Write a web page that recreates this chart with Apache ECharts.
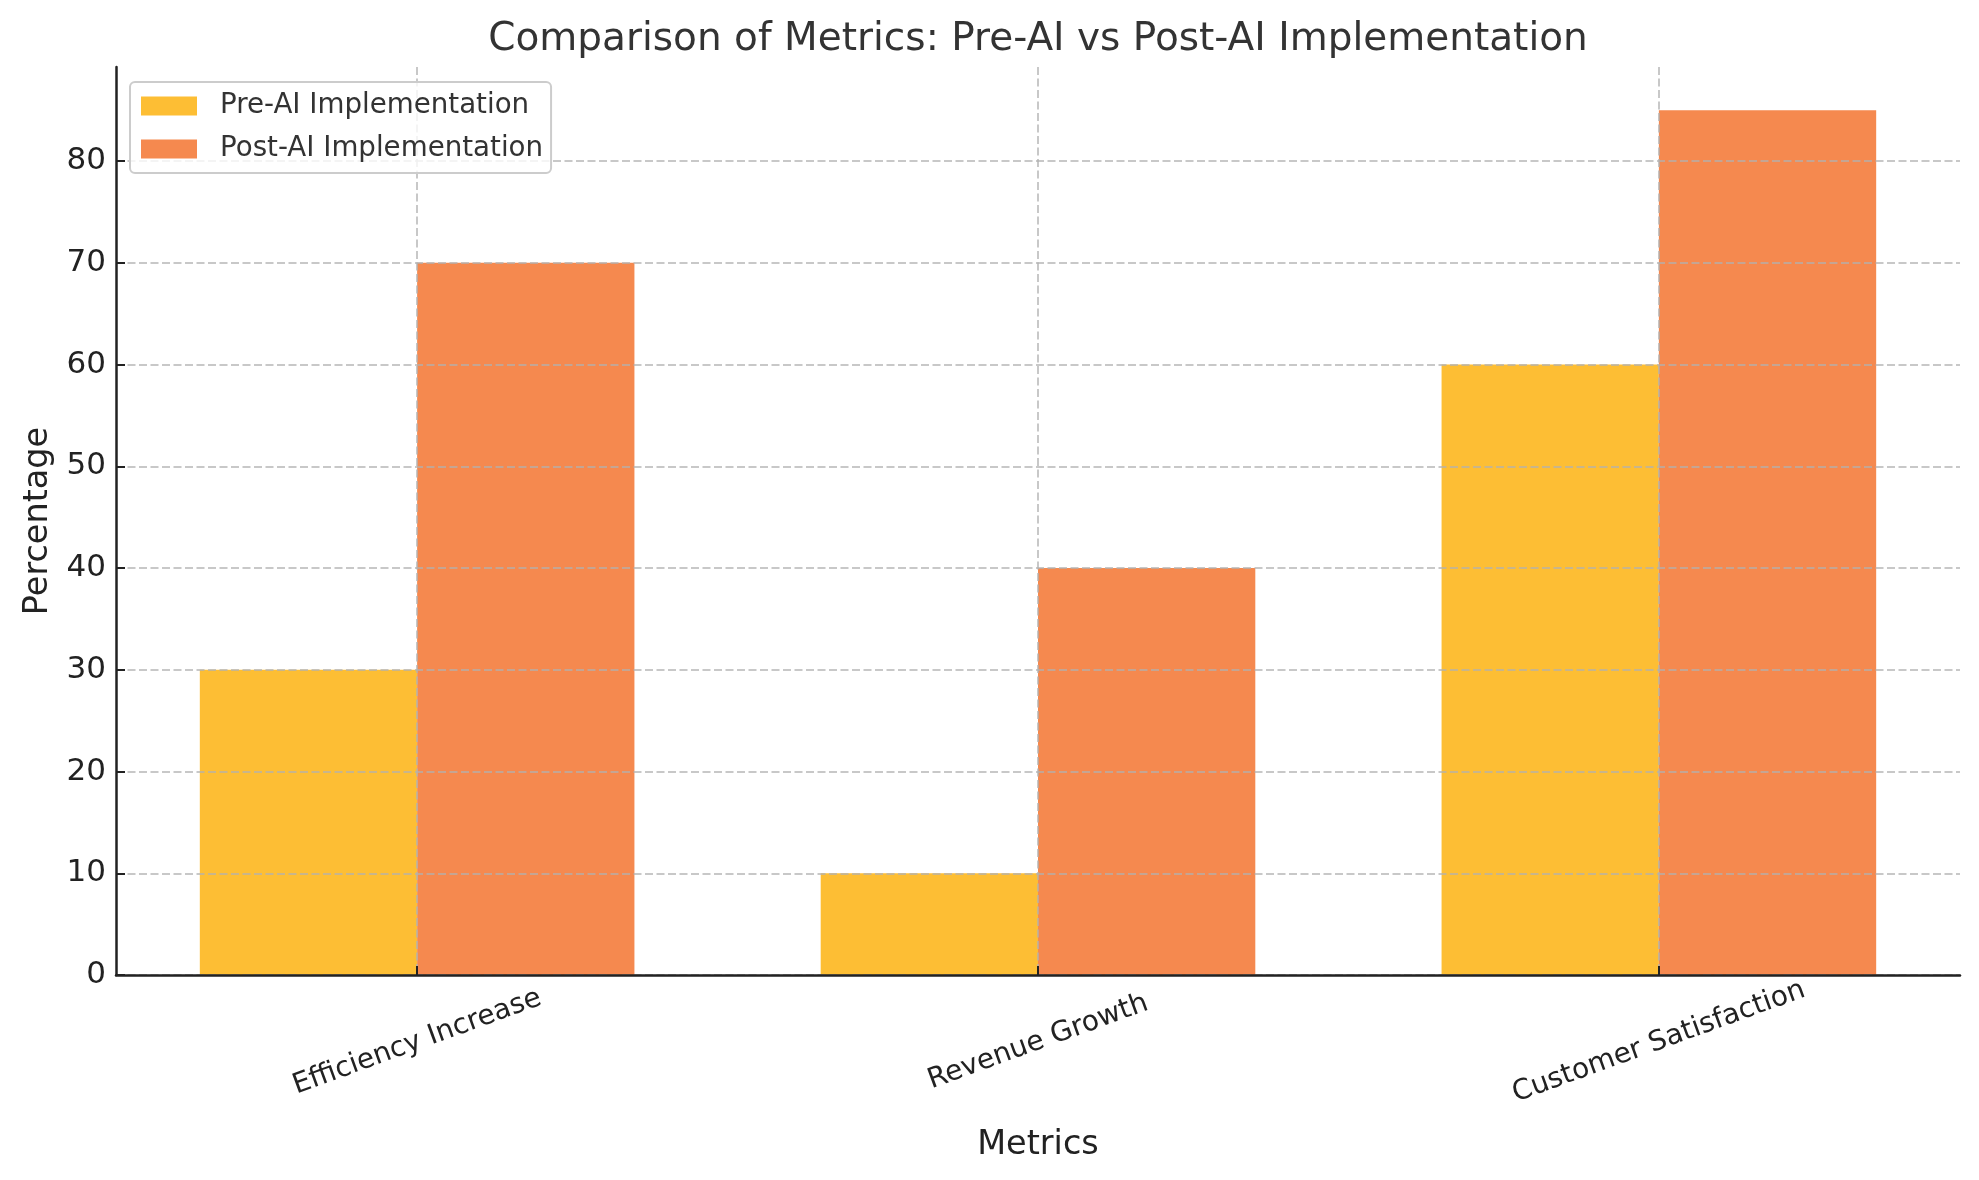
<!DOCTYPE html>
<html>
<head>
<meta charset="utf-8">
<script src="https://cdn.jsdelivr.net/npm/echarts@6/dist/echarts.min.js"></script>
<style>
html,body{margin:0;padding:0;background:#fff;}
#chart{width:1979px;height:1180px;}
</style>
</head>
<body>
<div id="chart"></div>
<script>
const categories = ['Efficiency Increase', 'Revenue Growth', 'Customer Satisfaction'];
const preAI = [30, 10, 60];
const postAI = [70, 40, 85];
const yTicks = [0, 10, 20, 30, 40, 50, 60, 70, 80];
const seriesNames = ['Pre-AI Implementation', 'Post-AI Implementation'];

const catIdx = categories.map((c, i) => i);
const barOffset = 0.175;
const font = 'DejaVu Sans';

const chart = echarts.init(document.getElementById('chart'), null, {renderer: 'canvas'});
const grid = {left: 116, right: 19, top: 67, bottom: 205};
const plotW = 1979 - grid.left - grid.right;
const xMin = -0.485, xMax = 2.485;
const barW = plotW / (xMax - xMin) * 0.35;

const gridLine = {show: true, lineStyle: {color: 'rgba(176,176,176,0.7)', width: 2, type: [8, 3.5]}};

chart.setOption({
  animation: false,
  backgroundColor: '#ffffff',
  title: {
    text: 'Comparison of Metrics: Pre-AI vs Post-AI Implementation',
    left: 1038, top: 20, textAlign: 'center', padding: 0,
    textStyle: {fontFamily: font, fontSize: 39, fontWeight: 'normal', color: '#333333'}
  },
  legend: {
    orient: 'vertical', left: 130, top: 82,
    padding: [10, 8, 10, 11],
    itemWidth: 56, itemHeight: 19, itemGap: 15,
    backgroundColor: 'rgba(255,255,255,0.8)',
    borderColor: '#cccccc', borderWidth: 2, borderRadius: 5,
    icon: 'rect',
    textStyle: {fontFamily: font, fontSize: 27.7, lineHeight: 28, color: '#333333', padding: [0, 0, 0, 18]},
    data: seriesNames
  },
  grid: grid,
  xAxis: {
    type: 'value', min: xMin, max: xMax, z: 3,
    name: 'Metrics', nameLocation: 'middle', nameGap: 153,
    nameTextStyle: {fontFamily: font, fontSize: 33.5, color: '#222222'},
    axisLine: {show: true, onZero: false, lineStyle: {color: '#222222', width: 2.5}},
    axisTick: {show: true, inside: true, length: 9, customValues: catIdx, lineStyle: {color: '#222222', width: 2}},
    axisLabel: {
      customValues: catIdx, rotate: 20, align: 'center', verticalAlign: 'middle', margin: 67,
      fontFamily: font, fontSize: 28, color: '#222222',
      formatter: v => categories[Math.round(v)] || ''
    },
    splitLine: gridLine
  },
  yAxis: {
    type: 'value', min: 0, max: 89.25, z: 3,
    name: 'Percentage', nameLocation: 'middle', nameGap: 61,
    nameTextStyle: {fontFamily: font, fontSize: 33.5, color: '#222222'},
    axisLine: {show: true, onZero: false, lineStyle: {color: '#222222', width: 2.5}},
    axisTick: {show: true, inside: true, length: 9, customValues: yTicks, lineStyle: {color: '#222222', width: 2}},
    axisLabel: {customValues: yTicks, margin: 10, fontFamily: font, fontSize: 31, color: '#222222'},
    splitLine: gridLine
  },
  series: [
    {
      name: seriesNames[0], type: 'bar', barWidth: barW, barGap: '-100%',
      itemStyle: {color: '#FDBE34'},
      data: preAI.map((v, i) => [i - barOffset, v])
    },
    {
      name: seriesNames[1], type: 'bar', barWidth: barW, barGap: '-100%',
      itemStyle: {color: '#F5894F'},
      data: postAI.map((v, i) => [i + barOffset, v])
    }
  ]
});
</script>
</body>
</html>
